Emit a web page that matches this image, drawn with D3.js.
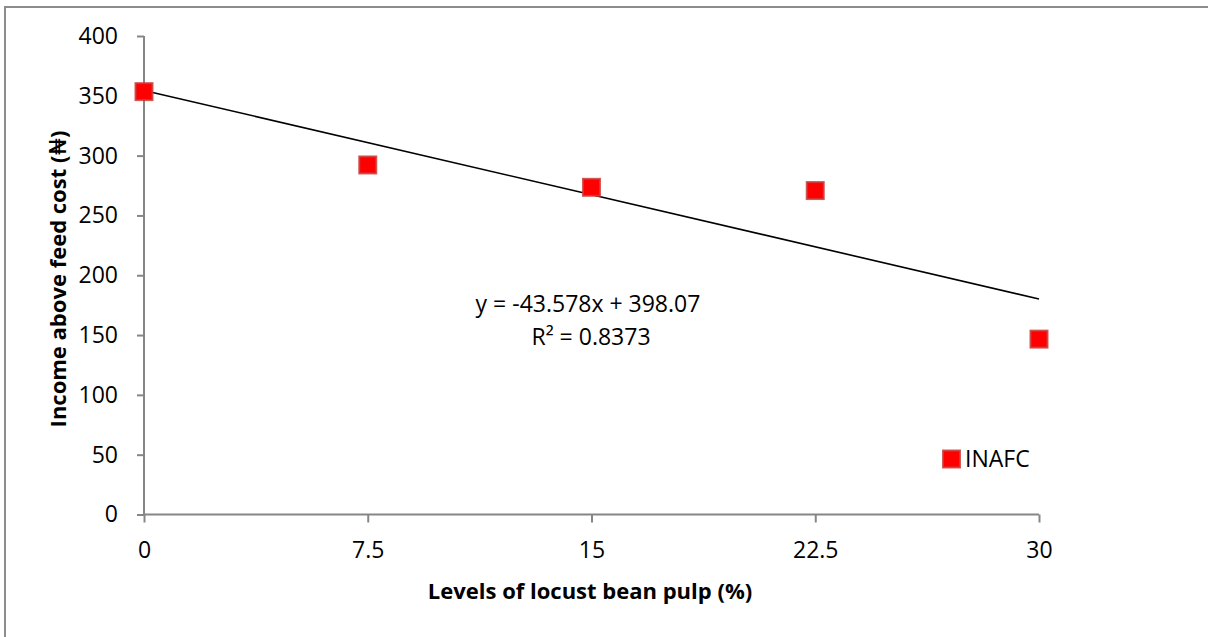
<!DOCTYPE html>
<html>
<head>
<meta charset="utf-8">
<script src="https://cdn.jsdelivr.net/npm/d3@7"></script>
<style>
  html, body { margin: 0; padding: 0; background: #fff; }
  svg { display: block; }
  text { font-family: "Open Sans", Lato, sans-serif; fill: #000; }
</style>
</head>
<body>
<svg id="chart" width="1208" height="637"></svg>
<script>
// Levels of locust bean pulp in the diet (%)
const levels = ["0", "7.5", "15", "22.5", "30"];
// Income above feed cost (₦) per level
const inafc = [353.5, 292.2, 273.5, 270.8, 146.6];
// Linear trend fitted on the level index (1..5)
const trendSlope = [-43.578];
const trendIntercept = [398.07];
const trendR2 = [0.8373];
const yTicks = [0, 50, 100, 150, 200, 250, 300, 350, 400];
const seriesName = ["INAFC"];

const svg = d3.select("#chart");
const axisColor = "#868686";
const labelSize = 23;
const titleSize = 22;

// outer frame
svg.append("rect")
  .attr("x", 5).attr("y", 7)
  .attr("width", 1230).attr("height", 660)
  .attr("fill", "none")
  .attr("stroke", "#8c8c8c")
  .attr("stroke-width", 2);

const x = d3.scalePoint().domain(levels).range([144, 1039]);
const xIdx = d3.scaleLinear().domain([1, levels.length]).range([144, 1039]);
const y = d3.scaleLinear().domain([0, 400]).range([514.5, 36]);

// y axis
const yAxis = svg.append("g")
  .attr("transform", "translate(144,0)")
  .call(d3.axisLeft(y).tickValues(yTicks).tickSize(7).tickPadding(19).tickFormat(d3.format("d")));
yAxis.select(".domain").attr("stroke", axisColor).attr("stroke-width", 2)
  .attr("d", `M0,${y(400)}V${y(0)}`);
yAxis.selectAll(".tick line").attr("stroke", axisColor).attr("stroke-width", 2);
yAxis.selectAll(".tick text").attr("font-size", labelSize).attr("font-family", "Open Sans").attr("fill", "#000");

// x axis
const xAxis = svg.append("g")
  .attr("transform", `translate(0,${y(0)})`)
  .call(d3.axisBottom(x).tickSize(8).tickPadding(19));
xAxis.select(".domain").attr("stroke", axisColor).attr("stroke-width", 2)
  .attr("d", `M${x(levels[0])},0H${x(levels[levels.length - 1])}`);
xAxis.selectAll(".tick line").attr("stroke", axisColor).attr("stroke-width", 2);
xAxis.selectAll(".tick text").attr("font-size", labelSize).attr("font-family", "Open Sans").attr("fill", "#000");

// trend line from the fitted equation
const trend = d => trendSlope[0] * d + trendIntercept[0];
svg.append("line")
  .attr("x1", xIdx(1)).attr("y1", y(trend(1)))
  .attr("x2", xIdx(levels.length)).attr("y2", y(trend(levels.length)))
  .attr("stroke", "#000").attr("stroke-width", 1.6);

// markers
const ms = 17;
svg.append("g").selectAll("rect")
  .data(inafc)
  .join("rect")
  .attr("x", (d, i) => x(levels[i]) - ms / 2)
  .attr("y", d => y(d) - ms / 2)
  .attr("width", ms).attr("height", ms)
  .attr("fill", "#ff0000")
  .attr("stroke", "#c9403d")
  .attr("stroke-opacity", 0.85)
  .attr("stroke-width", 2);

// equation label
svg.append("text")
  .attr("x", 588).attr("y", 312)
  .attr("text-anchor", "middle")
  .attr("font-size", labelSize)
  .text(`y = ${trendSlope[0]}x + ${trendIntercept[0]}`);
svg.append("text")
  .attr("x", 591).attr("y", 345)
  .attr("text-anchor", "middle")
  .attr("font-size", labelSize)
  .text(`R² = ${trendR2[0]}`);

// legend
svg.append("rect")
  .attr("x", 943).attr("y", 450.5)
  .attr("width", ms).attr("height", ms)
  .attr("fill", "#ff0000")
  .attr("stroke", "#c9403d")
  .attr("stroke-opacity", 0.85)
  .attr("stroke-width", 2);
svg.append("text")
  .attr("x", 965).attr("y", 467)
  .attr("font-size", labelSize)
  .text(seriesName[0]);

// axis titles
svg.append("text")
  .attr("x", 590).attr("y", 599)
  .attr("text-anchor", "middle")
  .attr("font-size", titleSize)
  .attr("font-weight", "bold")
  .text("Levels of locust bean pulp (%)");
svg.append("text")
  .attr("transform", "translate(66,279) rotate(-90)")
  .attr("text-anchor", "middle")
  .attr("font-size", titleSize)
  .attr("font-weight", "bold")
  .text("Income above feed cost (₦)");
</script>
</body>
</html>
